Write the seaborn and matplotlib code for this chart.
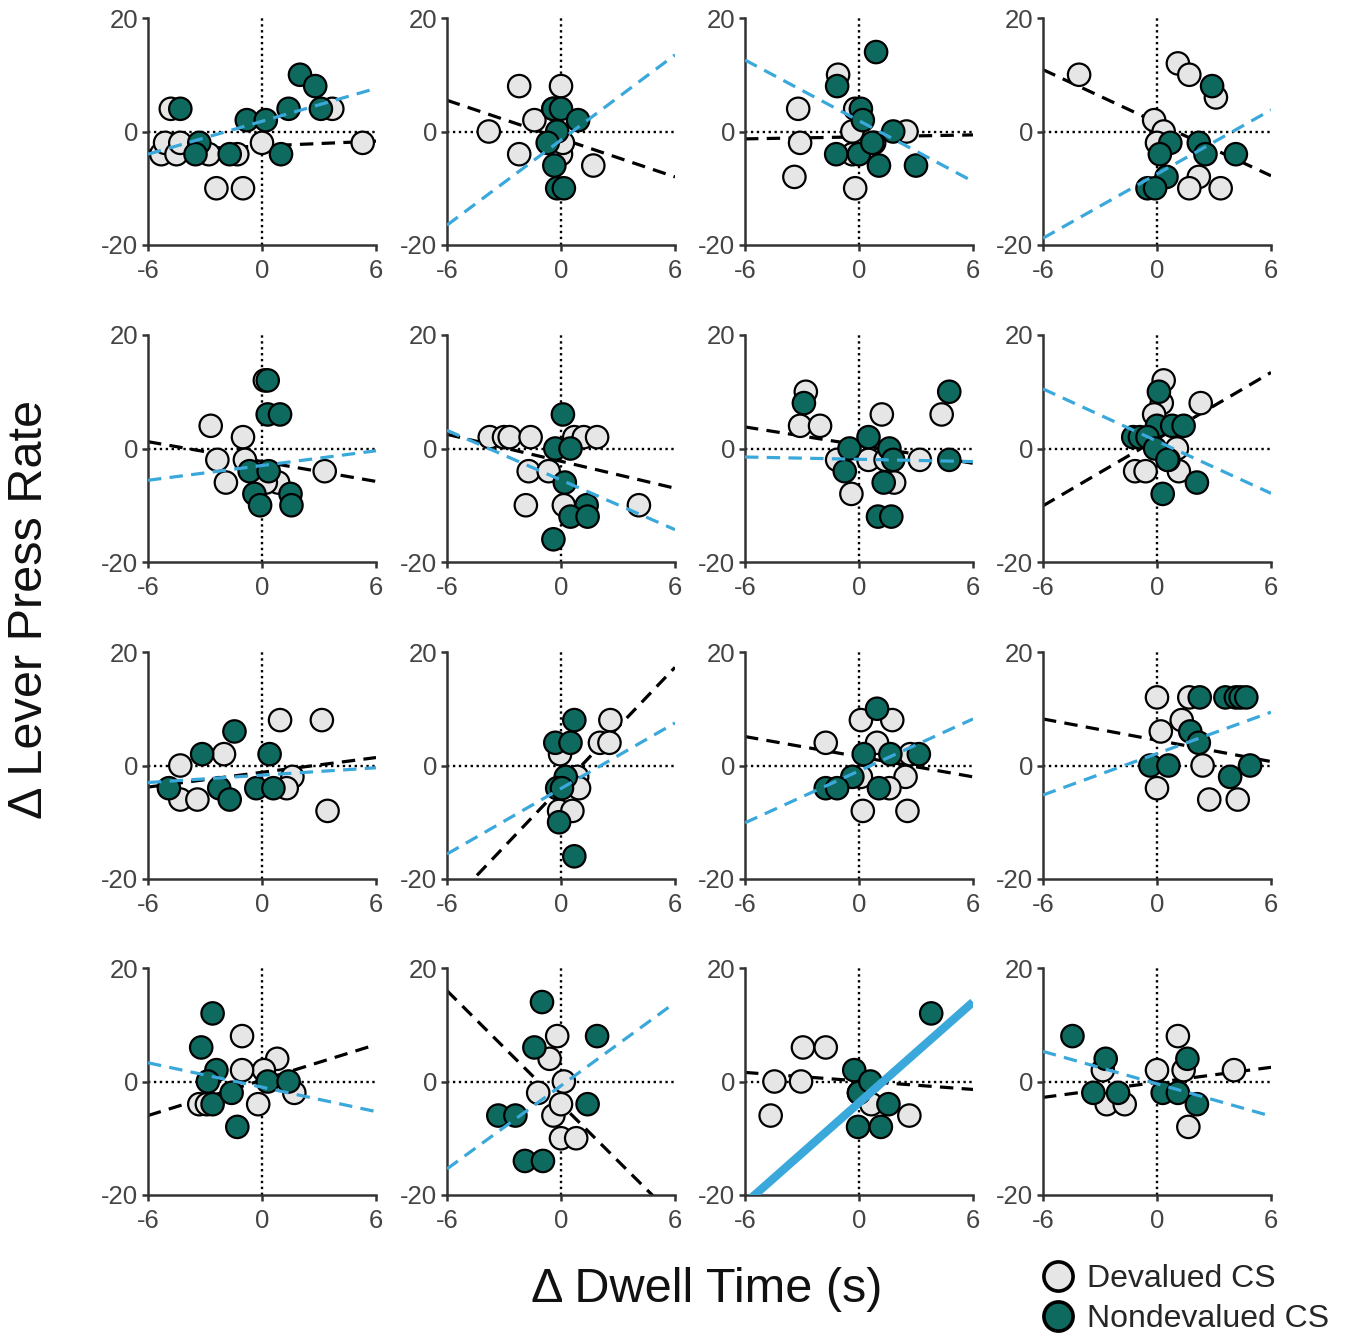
import matplotlib
matplotlib.use("Agg")
import matplotlib.pyplot as plt
import pandas as pd
import seaborn as sns
from matplotlib.lines import Line2D

sns.set_theme(style="ticks")
plt.rcParams["font.family"] = ["Liberation Sans", "DejaVu Sans"]

# ---- data: one list per subject panel (16 panels, row-major) ----
dev_x = [
    [-4.8, -5.3, -5.1, -4.5, -4.3, -2.8, -1.3, -2.4, -1.0, 0.0, 3.7, 5.3],
    [-2.2, 0.0, -3.8, -1.4, -2.2, 0.0, 0.1, 1.7, -0.4],
    [-1.1, -3.2, -3.1, -3.4, -0.2, -0.35, -0.2, 2.5, -0.35, 0.8],
    [-4.1, 1.1, 1.7, 3.1, -0.15, 0.35, 0.0, 2.2, 1.7, 3.35],
    [-2.7, -1.0, -2.35, -1.9, -0.9, 0.15, 3.3, 0.85, 0.2],
    [-3.75, -3.0, -2.7, -1.6, 0.7, 1.2, 1.9, -1.7, -0.65, -1.85, 0.15, 4.1],
    [-2.8, -3.1, -2.05, 1.2, -1.15, -0.4, 0.5, 1.85, 3.2, 4.35, 1.4],
    [0.35, 0.25, -0.15, 2.3, 1.05, -1.15, -0.6, 1.15, 0.6],
    [-4.3, -2.0, -4.3, -3.4, 0.95, 3.15, 1.6, 1.3, 3.45],
    [2.6, 2.05, 2.55, -0.05, 0.85, 0.95, -0.1, 0.6],
    [-1.75, 0.1, 1.75, 0.95, 2.7, 2.45, 0.1, 1.6, 0.2, 2.55],
    [0.0, 1.7, 1.3, 0.2, 2.4, 0.0, 2.75, 4.25],
    [-1.05, 0.8, 0.1, -1.05, -3.3, -2.9, -0.2, 1.7],
    [-0.2, -0.6, 0.15, -1.2, -0.4, 0.0, 0.0, 0.8],
    [-2.95, -1.75, -4.45, -3.05, -4.65, 0.0, 0.65, 2.65],
    [1.1, -2.85, -2.65, -1.7, 0.0, 1.4, 4.05, 1.65],
]
dev_y = [
    [4, -4, -2, -4, -2, -4, -4, -10, -10, -2, 4, -2],
    [8, 8, 0, 2, -4, -4, -2, -6, 4],
    [10, 4, -2, -8, 4, 0, -10, 0, -4, -2],
    [10, 12, 10, 6, 2, 0, -2, -8, -10, -10],
    [4, 2, -2, -6, -2, 12, -4, -6, -6],
    [2, 2, 2, 2, 2, 2, 2, -4, -4, -10, -10, -10],
    [10, 4, 4, 6, -2, -8, -2, -6, -2, 6, -2],
    [12, 8, 6, 8, 0, -4, -4, -4, -2],
    [0, 2, -6, -6, 8, 8, -2, -4, -8],
    [8, 4, 4, 2, -2, -4, -8, -8],
    [4, 8, 8, 4, 2, -2, -2, -4, -8, -8],
    [12, 12, 8, 6, 0, -4, -6, -6],
    [8, 4, 2, 2, -4, -4, -4, -2],
    [8, 4, 0, -2, -6, -4, -10, -10],
    [6, 6, 0, 0, -6, -2, -4, -6],
    [8, 2, -4, -4, 2, 2, 2, -8],
]
nondev_x = [
    [-4.3, -3.3, -3.5, -1.7, -0.8, 0.2, 1.4, 1.0, 2.0, 2.8, 3.1],
    [-0.4, 0.0, 0.9, -0.2, -0.7, -0.35, -0.2, 0.15],
    [0.9, -1.15, 0.1, 0.2, -1.2, 0.0, 0.7, 1.05, 1.8, 3.0],
    [2.9, 0.7, 2.2, 0.15, 2.55, 4.15, 0.5, -0.5, -0.1],
    [0.3, 0.3, 0.95, -0.65, 0.35, -0.4, -0.1, 1.5, 1.55],
    [0.1, -0.3, 0.5, 0.2, 1.35, 0.5, 1.4, -0.4],
    [-2.9, -0.5, -0.75, 0.5, 1.6, 1.8, 1.3, 1.0, 1.7, 4.75, 4.75],
    [0.1, 0.0, 0.8, 1.4, -1.25, -0.9, -0.5, -0.1, 0.55, 2.1, 0.3],
    [-1.45, -3.15, 0.4, -4.9, -2.25, -1.7, -0.3, 0.6],
    [0.7, -0.3, 0.5, 0.25, -0.2, 0.05, -0.1, 0.7],
    [0.95, 0.25, 1.65, 3.15, -0.35, -1.75, -1.15, 1.05],
    [2.25, 3.6, 4.15, 4.4, 4.7, 1.75, 2.2, -0.35, 0.6, 3.85, 4.9],
    [-2.6, -3.2, -2.4, -2.85, -2.6, -1.6, -1.3, 0.3, 1.4],
    [-1.0, -1.4, 1.9, 1.4, -3.3, -2.4, -1.9, -0.95],
    [3.8, -0.25, 0.0, 0.6, 1.55, -0.05, 1.15],
    [-4.45, -2.7, -3.35, -2.05, 0.3, 1.1, 1.6, 2.1],
]
nondev_y = [
    [4, -2, -4, -4, 2, 2, 4, -4, 10, 8, 4],
    [4, 4, 2, 0, -2, -6, -10, -10],
    [14, 8, 4, 2, -4, -4, -2, -6, 0, -6],
    [8, -2, -2, -4, -4, -4, -8, -10, -10],
    [12, 6, 6, -4, -4, -8, -10, -8, -10],
    [6, 0, 0, -6, -10, -12, -12, -16],
    [8, 0, -4, 2, 0, -2, -6, -12, -12, 10, -2],
    [10, 4, 4, 4, 2, 2, 2, 0, -2, -6, -8],
    [6, 2, 2, -4, -4, -6, -4, -4],
    [8, 4, 4, -2, -4, -4, -10, -16],
    [10, 2, 2, 2, -2, -4, -4, -4],
    [12, 12, 12, 12, 12, 6, 4, 0, 0, -2, 0],
    [12, 6, 2, 0, -4, -2, -8, 0, 0],
    [14, 6, 8, -4, -6, -6, -14, -14],
    [12, 2, -2, 0, -4, -8, -8],
    [8, 4, -2, -2, -2, -2, 4, -4],
]

# regression fits, evaluated at x = -6 and x = 6
dev_fit_left = [-3.4, 5.5, -1.3, 10.9, 1.2, 2.5, 3.8, -10.1,
                -3.8, -24.9, 5.1, 8.2, -6.0, 16.0, 1.6, -2.8]
dev_fit_right = [-1.7, -8.0, -0.6, -7.8, -5.8, -7.0, -2.6, 13.4,
                 1.4, 17.3, -2.0, 0.7, 6.5, -24.0, -1.4, 2.5]
nondev_fit_left = [-4.0, -16.5, 12.6, -18.8, -5.6, 3.2, -1.5, 10.5,
                   -3.0, -15.6, -10.1, -5.2, 3.3, -15.4, -21.5, 5.3]
nondev_fit_right = [7.6, 13.5, -8.8, 3.8, -0.4, -14.3, -2.3, -7.9,
                    -0.4, 7.5, 8.2, 9.4, -5.3, 13.9, 14.0, -6.1]
nondev_significant = [False] * 14 + [True, False]

x_ticks = [-6, 0, 6]
y_ticks = [-20, 0, 20]
groups = ["Devalued CS", "Nondevalued CS"]

# ---- styling ----
GREY = "#E6E6E6"
TEAL = "#0E6A5F"
BLUE = "#3AA8DA"
SPINE = "#333333"
palette = {groups[0]: GREY, groups[1]: TEAL}

W, H = 1347, 1336
fig = plt.figure(figsize=(W / 100, H / 100), dpi=100)
col_left = [148, 447, 745, 1043]
row_top = [18, 335, 652, 968]
ax_w, ax_h = 228, 227

for i in range(16):
    r, c = divmod(i, 4)
    ax = fig.add_axes([col_left[c] / W, 1 - (row_top[r] + ax_h) / H, ax_w / W, ax_h / H])

    df = pd.DataFrame({
        "dwell": dev_x[i] + nondev_x[i],
        "press": dev_y[i] + nondev_y[i],
        "cs": [groups[0]] * len(dev_x[i]) + [groups[1]] * len(nondev_x[i]),
    })

    ax.axhline(0, color="black", lw=1.7, ls=(0, (1, 1.5)), zorder=1)
    ax.axvline(0, color="black", lw=1.7, ls=(0, (1, 1.5)), zorder=1)

    ax.plot([-6, 6], [dev_fit_left[i], dev_fit_right[i]], color="black",
            lw=2.3, dashes=(4.2, 2.6), zorder=2)

    sns.scatterplot(data=df, x="dwell", y="press", hue="cs", palette=palette,
                    s=260, edgecolor="black", linewidth=1.6, legend=False,
                    ax=ax, zorder=3)

    if nondev_significant[i]:
        ax.plot([-6, 6], [nondev_fit_left[i], nondev_fit_right[i]], color=BLUE,
                lw=6, solid_capstyle="butt", zorder=4)
    else:
        ax.plot([-6, 6], [nondev_fit_left[i], nondev_fit_right[i]], color=BLUE,
                lw=2.3, dashes=(4.2, 2.6), zorder=4)

    ax.set_xlim(-6, 6)
    ax.set_ylim(-20, 20)
    ax.set_xticks(x_ticks)
    ax.set_yticks(y_ticks)
    ax.set_xticklabels([str(t) for t in x_ticks])
    ax.set_yticklabels([str(t) for t in y_ticks])
    ax.set_xlabel("")
    ax.set_ylabel("")
    sns.despine(ax=ax)
    for side in ("left", "bottom"):
        ax.spines[side].set_linewidth(1.8)
        ax.spines[side].set_color(SPINE)
    ax.tick_params(direction="out", length=4, width=1.8, color=SPINE,
                   labelsize=18.5, labelcolor="#444444")
    ax.tick_params(axis="x", pad=6)
    ax.tick_params(axis="y", pad=3)

fig.text(707 / W, 1 - 1290 / H, "Δ Dwell Time (s)", ha="center", va="center",
         fontsize=35, color="#111111")
fig.text(30 / W, 1 - 609 / H, "Δ Lever Press Rate", ha="center", va="center",
         rotation=90, fontsize=35, color="#111111")

handles = [
    Line2D([], [], ls="none", marker="o", markersize=21, markerfacecolor=GREY,
           markeredgecolor="black", markeredgewidth=2.6),
    Line2D([], [], ls="none", marker="o", markersize=21, markerfacecolor=TEAL,
           markeredgecolor="black", markeredgewidth=2.6),
]
fig.legend(handles, groups, loc="center left",
           bbox_to_anchor=(1039 / W, 1 - 1299 / H), frameon=False,
           fontsize=23, handletextpad=0.3, labelspacing=0.33,
           borderpad=0, handlelength=1.2, borderaxespad=0)

fig.savefig("out.png", dpi=100)
